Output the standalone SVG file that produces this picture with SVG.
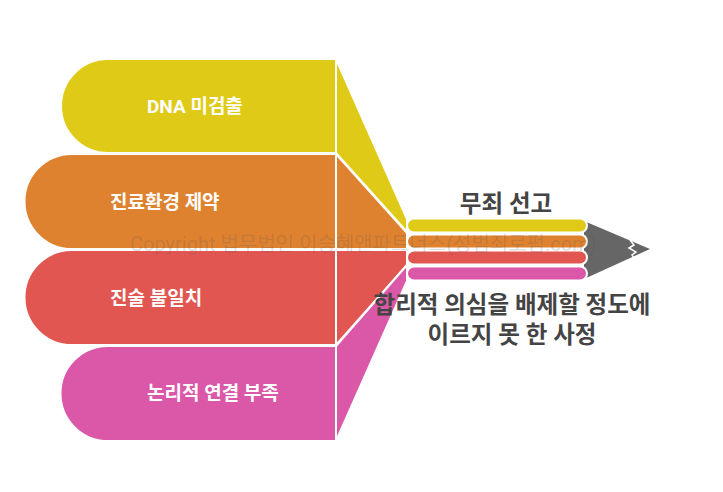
<svg xmlns="http://www.w3.org/2000/svg" width="723" height="492" viewBox="0 0 723 492">
<style>
.sh{stroke:#fff;stroke-width:2;stroke-linejoin:round}
.y{fill:#DFCB17}.o{fill:#DF8230}.r{fill:#E25652}.p{fill:#DB57A8}
.lbl{font-family:Roboto,"Noto Sans CJK KR",sans-serif;font-weight:700;font-size:19px;fill:#fff}
.ttl{font-family:Roboto,"Noto Sans CJK KR",sans-serif;font-weight:700;font-size:23.5px;fill:#444;text-anchor:middle}
.wm{font-family:Roboto,"Noto Sans CJK KR",sans-serif;font-size:20px;fill:#555;fill-opacity:0.2}
</style>
<rect width="723" height="492" fill="#fff"/>
<g id="tip">
<polygon points="584,221 650,249 584,279" fill="#666"/>
<polyline points="630,240 634,245 629,248 636,252 632,255 635,259" fill="none" stroke="#fff" stroke-width="1.5"/>
</g>
<g id="n1">
<path class="sh y" d="M108,59 H336 V153 H108 A47,47 0 0 1 108,59 Z"/>
<polygon class="sh y" points="336,59 407,219 407,232 336,153"/>
<rect class="sh y" x="407" y="218.5" width="180" height="14" rx="7"/>
<text class="lbl" x="147" y="113">DNA 미검출</text>
</g>
<g id="n2">
<path class="sh o" d="M72,154 H336 V249 H72 A47.5,47.5 0 0 1 72,154 Z"/>
<polygon class="sh o" points="336,154 407,233 407,249 336,249"/>
<rect class="sh o" x="407" y="234.5" width="180" height="14" rx="7"/>
<text class="lbl" x="110" y="209">진료환경 제약</text>
</g>
<g id="n3">
<path class="sh r" d="M72,250 H336 V345 H72 A47.5,47.5 0 0 1 72,250 Z"/>
<polygon class="sh r" points="336,250 407,250 407,265 336,345"/>
<rect class="sh r" x="407" y="250.5" width="180" height="14" rx="7"/>
<text class="lbl" x="110" y="305">진술 불일치</text>
</g>
<g id="n4">
<path class="sh p" d="M108,346 H336 V441 H108 A47.5,47.5 0 0 1 108,346 Z"/>
<polygon class="sh p" points="336,346 407,265 407,281 336,441"/>
<rect class="sh p" x="407" y="266.5" width="180" height="14" rx="7"/>
<text class="lbl" x="147" y="400">논리적 연결 부족</text>
</g>
<g id="texts">
<text class="ttl" x="506" y="212">무죄 선고</text>
<text class="ttl" x="512" y="313">합리적 의심을 배제할 정도에</text>
<text class="ttl" x="512" y="343">이르지 못 한 사정</text>
</g>
<text class="wm" x="130" y="251">Copyright 법무법인 이승혜앤파트너스(성범죄로펌.com)</text>
</svg>
